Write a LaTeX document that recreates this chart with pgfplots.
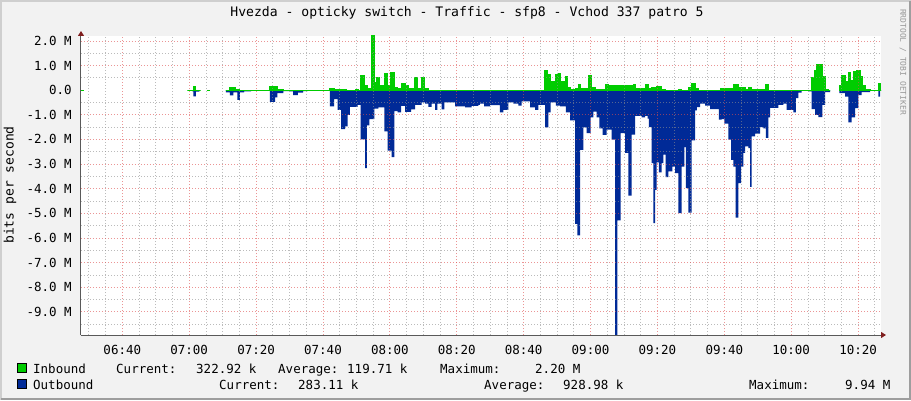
\documentclass[border=0pt]{standalone}
\usepackage{fontspec}
\setmainfont{DejaVu Sans Mono}
\usepackage{pgfplots}
\pgfplotsset{compat=1.18}
\usetikzlibrary{arrows.meta}
\definecolor{canvasbg}{HTML}{F2F2F2}
\definecolor{inb}{HTML}{00CC00}
\definecolor{outb}{HTML}{002A97}
\definecolor{mgrid}{rgb}{0.87,0.31,0.31}
\definecolor{mingrid}{rgb}{0.56,0.56,0.56}
\definecolor{arrowc}{rgb}{0.5,0.12,0.12}
\definecolor{axisc}{rgb}{0.35,0.35,0.35}
\definecolor{shadea}{HTML}{CFCFCF}
\definecolor{shadeb}{HTML}{9E9E9E}
\begin{document}
\fontsize{12.5}{14}\selectfont
\begin{tikzpicture}[x=1pt,y=1pt]
\fill[canvasbg] (0,0) rectangle (911,400);
\useasboundingbox (0,0) rectangle (911,400);
\draw[shadea, line width=2pt] (1,0) -- (1,399) -- (911,399);
\draw[shadeb, line width=2pt] (1,1) -- (910,1) -- (910,399);
\begin{axis}[
  at={(81pt,65pt)}, anchor=south west, scale only axis,
  width=800pt, height=299pt,
  xmin=27.65, xmax=266.85, ymin=-9.94, ymax=2.2,
  axis background/.style={fill=white},
  axis x line=bottom, axis y line=left,
  axis line style={draw=axisc, line width=1pt},
  x axis line style={-{Triangle[length=5pt,width=6pt,color=arrowc]}, shorten >=-5pt},
  y axis line style={-{Triangle[length=5pt,width=6pt,color=arrowc]}, shorten >=-5pt},
  xtick={40,60,...,260},
  xticklabels={06:40,07:00,07:20,07:40,08:00,08:20,08:40,09:00,09:20,09:40,10:00,10:20},
  minor xtick={30,35,45,50,55,65,70,75,85,90,95,105,110,115,125,130,135,145,150,155,165,170,175,185,190,195,205,210,215,225,230,235,245,250,255,265},
  ytick={-9,-8,-7,-6,-5,-4,-3,-2,-1,1,2},
  yticklabels={-9.0 M,-8.0 M,-7.0 M,-6.0 M,-5.0 M,-4.0 M,-3.0 M,-2.0 M,-1.0 M,1.0 M,2.0 M},
  extra y ticks={0}, extra y tick labels={0.0},
  extra y tick style={grid=none},
  minor ytick={-9.5,-8.5,...,1.5},
  grid=both, axis on top,
  major grid style={draw=mgrid, draw opacity=0.6, line width=0.8pt, dash pattern=on 1pt off 2pt},
  minor grid style={draw=mingrid, draw opacity=0.6, line width=0.8pt, dash pattern=on 1pt off 2pt},
  tick style={draw=none},
  xticklabel style={inner sep=0pt, anchor=north, yshift=-8pt},
  yticklabel style={inner sep=0pt, anchor=east, xshift=-7pt},
]
% ---- Outbound (plotted negative) ----
\addplot[const plot, fill=outb, draw=none] coordinates {
(59.43,0) (60.93,-0.05) (61.23,-0.25) (62.03,-0.06) (63.02,0) (63.44,0)
} \closedcycle;
\addplot[const plot, fill=outb, draw=none] coordinates {
(71.00,-0.09) (72.20,-0.21) (73.19,-0.09) (74.38,-0.39) (75.19,-0.09) (76.39,-0.05)
(78.48,0) (84.16,-0.47) (85.66,-0.29) (86.34,-0.12) (88.14,-0.04) (90.14,-0.05)
(91.04,-0.2) (92.53,-0.1) (94.03,-0.04) (95.43,0) (102.10,-0.66) (103.30,-0.36)
(104.40,-0.8) (105.39,-1.58) (106.59,-1.47) (107.39,-1.0) (108.08,-0.68) (110.38,-0.6)
(111.28,-2.0) (112.57,-3.16) (113.16,-1.43) (113.85,-1.17) (115.35,-0.75) (116.54,-0.7)
(118.34,-1.67) (119.35,-2.45) (120.55,-2.72) (121.33,-0.85) (122.34,-0.9) (123.33,-0.64)
(124.53,-0.88) (126.32,-0.78) (127.52,-0.6) (129.52,-0.5) (130.51,-0.55) (131.49,-0.68)
(132.51,-0.55) (133.50,-0.8) (134.18,-0.55) (135.50,-0.78) (136.28,-0.5) (139.48,-0.66)
(142.47,-0.7) (144.47,-0.64) (146.44,-0.6) (146.95,-0.55) (148.15,-0.66) (149.94,-0.61)
(152.93,-0.9) (153.92,-0.8) (155.41,-0.5) (156.91,-0.55) (158.40,-0.63) (159.42,-0.45)
(161.90,-0.7) (163.40,-0.8) (164.38,-0.6) (166.39,-1.51) (167.37,-0.9) (168.09,-0.5)
(169.67,-0.63) (170.87,-0.66) (172.66,-0.9) (173.86,-1.23) (175.36,-5.43) (176.04,-5.9)
(176.85,-2.42) (177.84,-1.51) (178.85,-1.74) (180.05,-1.1) (180.83,-0.87) (181.84,-1.1)
(182.62,-1.55) (183.64,-1.81) (184.83,-1.6) (186.33,-2.01) (187.32,-9.94) (188.00,-5.29)
(189.02,-1.74) (190.31,-2.55) (191.29,-4.28) (192.31,-1.8) (193.30,-1.04) (195.30,-1.1)
(196.29,-1.04) (197.09,-1.15) (197.48,-1.5) (198.29,-2.96) (198.77,-5.4) (199.28,-4.05)
(199.78,-2.93) (200.47,-3.34) (201.28,-2.96) (201.76,-2.62) (202.47,-3.53) (203.25,-3.3)
(204.45,-3.1) (205.26,-3.37) (206.24,-4.99) (207.26,-3.1) (208.04,-2.31) (208.54,-3.98)
(209.23,-4.97) (210.25,-2.04) (211.24,-0.82) (211.83,-0.69) (212.73,-0.55) (214.23,-0.63)
(215.72,-0.77) (218.41,-1.2) (219.22,-1.17) (220.00,-1.36) (221.19,-2.01) (222.00,-2.83)
(222.69,-3.1) (223.40,-5.17) (224.18,-3.77) (224.99,-3.1) (225.68,-2.55) (226.19,-2.28)
(227.17,-2.35) (227.68,-3.93) (228.19,-1.88) (229.18,-1.76) (230.67,-1.5) (231.66,-1.55)
(232.46,-1.94) (233.15,-1.1) (233.66,-0.72) (236.14,-0.6) (237.64,-0.55) (238.65,-0.8)
(239.64,-0.8) (240.63,-0.9) (241.43,-0.32) (242.12,-0.1) (243.14,-0.03) (245.11,-0.05)
(246.13,-0.77) (247.12,-1.0) (248.10,-1.09) (249.30,-0.6) (250.11,-0.08) (251.60,0)
} \closedcycle;
\addplot[const plot, fill=outb, draw=none] coordinates {
(254.38,-0.12) (256.09,-0.26) (257.07,-1.31) (258.09,-1.1) (259.08,-0.73) (260.06,-0.2)
(261.08,-0.08) (263.56,-0.03) (266.04,-0.26) (266.55,-0.02) (266.85,0)
} \closedcycle;
% ---- Inbound ----
\addplot[inb, line width=1pt] coordinates {(27.65,0) (28.55,0)};
\addplot[inb, line width=1pt] coordinates {(65.23,0) (66.22,0)};
\addplot[const plot, fill=inb, draw=inb, line width=1pt] coordinates {
(59.43,0) (61.23,0.14) (62.03,0) (63.44,0)
} \closedcycle;
\addplot[const plot, fill=inb, draw=inb, line width=1pt] coordinates {
(71.00,0) (71.99,0.1) (73.70,0.04) (75.19,0) (84.16,0.15) (86.34,0.04) (88.14,0)
(102.10,0.08) (103.30,0.04) (107.09,0) (109.58,0.04) (110.56,0) (111.28,0.58)
(112.36,0.2) (113.37,0.08) (114.36,2.2) (115.26,0.33) (116.06,0.53) (117.05,0.2)
(118.34,0.67) (119.23,0.2) (120.25,0.7) (121.24,0.12) (122.34,0.08) (123.54,0.26)
(124.53,0.2) (125.51,0.05) (127.31,0.5) (128.20,0.08) (129.52,0.5) (130.30,0.06)
(131.49,0) (166.09,0.79) (167.19,0.63) (168.09,0.36) (169.67,0.63) (170.36,0.66)
(171.08,0.36) (172.37,0.55) (173.05,0.12) (173.86,0.01) (175.36,0.08) (176.34,0.22)
(177.06,0.08) (179.03,0.04) (179.33,0.6) (180.14,0.12) (181.34,0.04) (184.33,0.22)
(185.31,0.18) (192.79,0.22) (193.59,0.08) (196.29,0.22) (197.27,0.05) (198.29,0.12)
(199.78,0.15) (201.28,0.04) (202.27,0) (206.24,0.03) (207.26,0) (209.23,0.12)
(210.25,0.26) (211.24,0.06) (212.22,0) (218.71,0.05) (222.69,0.22) (224.18,0.1)
(226.19,0.04) (227.17,0.12) (228.19,0.04) (232.17,0.23) (233.36,0) (246.13,0.5)
(246.82,0.8) (247.62,1.04) (249.30,0.55) (250.11,0.04) (251.09,0) (251.60,0)
} \closedcycle;
\addplot[const plot, fill=inb, draw=inb, line width=1pt] coordinates {
(254.38,0.2) (255.10,0.59) (256.09,0.36) (257.07,0.7) (257.58,0.4) (258.57,0.74)
(259.58,0.8) (260.57,0.55) (261.38,0.2) (262.36,0.04) (263.56,0) (266.04,0.26)
(266.55,0) (266.85,0)
} \closedcycle;
\end{axis}
% title and labels
\node[anchor=base, inner sep=0pt, font=\fontsize{13.1}{14}\selectfont] at (467,383) {Hvezda - opticky switch - Traffic - sfp8 - Vchod 337 patro 5};
\node[rotate=90, inner sep=0pt, font=\fontsize{13}{14}\selectfont] at (10,215) {bits per second};
\node[rotate=-90, inner sep=0pt, text=black!40, font=\fontsize{8}{9}\selectfont] at (903,338) {RRDTOOL / TOBI OETIKER};
% legend
\filldraw[fill=inb, draw=black, line width=0.8pt] (17.5,27.5) rectangle (26.5,36.5);
\filldraw[fill=outb, draw=black, line width=0.8pt] (17.5,11.5) rectangle (26.5,20.5);
\node[anchor=base west, inner sep=0pt] at (33,27) {Inbound};
\node[anchor=base west, inner sep=0pt] at (116,27) {Current:};
\node[anchor=base west, inner sep=0pt] at (196,27) {322.92 k};
\node[anchor=base west, inner sep=0pt] at (278,27) {Average:};
\node[anchor=base west, inner sep=0pt] at (347,27) {119.71 k};
\node[anchor=base west, inner sep=0pt] at (440,27) {Maximum:};
\node[anchor=base west, inner sep=0pt] at (535,27) {2.20 M};
\node[anchor=base west, inner sep=0pt] at (33,11) {Outbound};
\node[anchor=base west, inner sep=0pt] at (219,11) {Current:};
\node[anchor=base west, inner sep=0pt] at (298,11) {283.11 k};
\node[anchor=base west, inner sep=0pt] at (484,11) {Average:};
\node[anchor=base west, inner sep=0pt] at (563,11) {928.98 k};
\node[anchor=base west, inner sep=0pt] at (749,11) {Maximum:};
\node[anchor=base west, inner sep=0pt] at (845,11) {9.94 M};
\end{tikzpicture}
\end{document}
